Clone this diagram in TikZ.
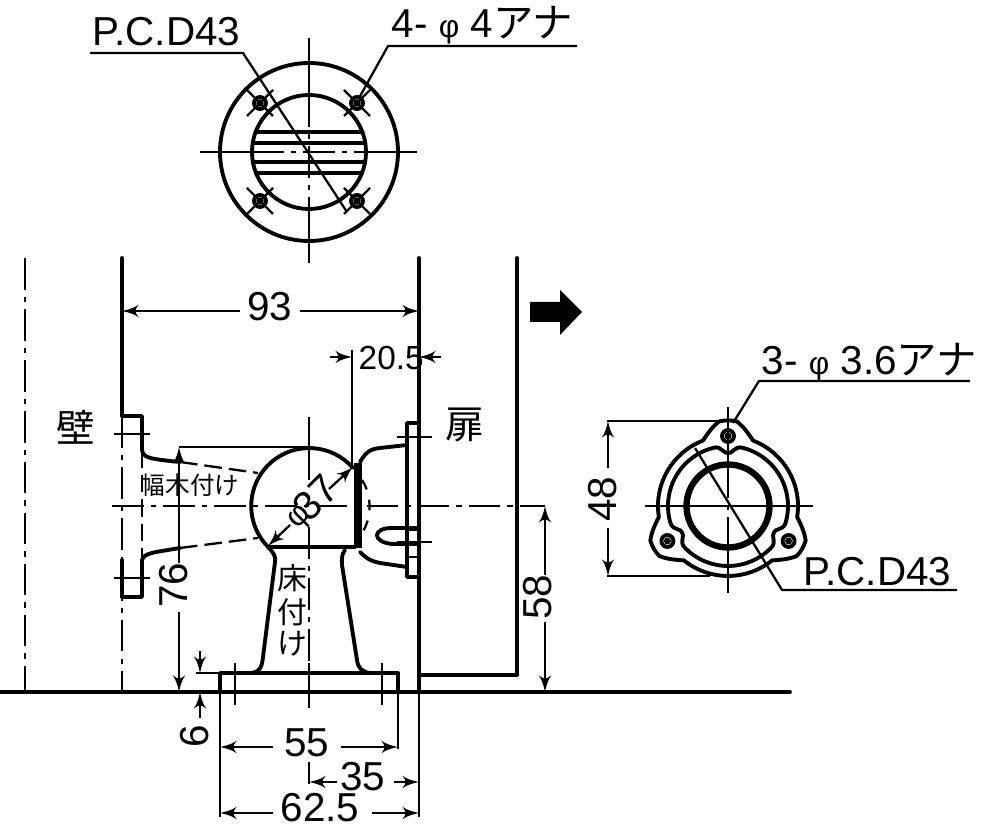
\documentclass[tikz,border=0pt]{standalone}
\usepackage{fontspec}
\setmainfont{Liberation Sans}
\newfontfamily\jpfont{Noto Sans CJK JP}
\usetikzlibrary{arrows}
\newcommand{\dia}{{\fontsize{9}{9}\selectfont φ}}
\tikzset{>=latex',
         part/.style = {line width=1.1pt, line cap=round, line join=round},
         dimline/.style = {line width=0.65pt},
         cenline/.style = {line width=0.65pt, dash pattern=on 9pt off 2pt on 1.5pt off 2pt},
         hidline/.style = {line width=0.65pt, dash pattern=on 5pt off 2pt},
         lbl/.style = {inner sep=0pt, font=\fontsize{11.5}{12}\selectfont},
         kanji/.style = {inner sep=0pt, font=\jpfont\fontsize{7}{8}\selectfont}}

\begin{document}
\begin{tikzpicture}[x=0.1mm, y=-0.1mm]
    \useasboundingbox (0, 0) rectangle (1000, 834);

    % top view
    \begin{scope}[shift={(309, 152)}]
      \draw [part] (0, 0) circle (89);
      \draw [part] (0, 0) circle (57);
      \foreach \y in {-20, -9, 10, 21} {
        \draw [part] ({-sqrt(57*57 - \y*\y)}, \y) -- ({sqrt(57*57 - \y*\y)}, \y);
      }
      \draw [dimline] (-109, 0) -- (-57, 0);
      \draw [dimline] (57, 0) -- (108, 0);
      \draw [cenline] (-57, 0) -- (57, 0);
      \draw [dimline] (0, -114) -- (0, -57);
      \draw [dimline] (0, 57) -- (0, 111);
      \draw [cenline] (0, -57) -- (0, 57);
      \foreach \x in {-49, 48} {
        \foreach \y in {-49, 49} {
          \draw [dimline] (\x - 13, \y - 13) -- (\x + 13, \y + 13);
          \draw [dimline] (\x - 13, \y + 13) -- (\x + 13, \y - 13);
          \draw [part] (\x, \y) circle (6);
          \draw [dimline] (\x, \y) circle (2.5);
        }
      }
    \end{scope}
    \node [lbl, anchor=base west] (pcdtop) at (92, 46) {P.C.D43};
    \node [lbl, anchor=base west] (holetop) at (391, 38) {4- \dia{} 4{\jpfont アナ}};
    \draw [dimline] (90, 53) -- (243, 53) -- (347, 212);
    \draw [dimline] (577, 46) -- (388, 46) -- (359, 98);

    % wall and door
    \draw [cenline] (25, 258) -- (25, 692);
    \draw [part] (122, 258) -- (122, 416);
    \draw [cenline] (122, 416) -- (122, 692);
    \draw [part] (419, 258) -- (419, 692);
    \draw [part] (517, 258) -- (517, 675) -- (419, 675);
    \draw [part] (0, 692) -- (790, 692);

    % wall side flange
    \draw [part] (122, 416) -- (142, 416) -- (142, 450)
      .. controls (143, 458) and (150, 459) .. (180, 462);
    \draw [part] (122, 597) -- (142, 597) -- (142, 560)
      .. controls (145, 553) and (150, 553) .. (180, 548);
    \draw [part] (122, 597) -- (122, 560);
    \draw [hidline] (142, 450) -- (142, 560);
    \draw [hidline] (180, 462) -- (258, 473);
    \draw [hidline] (180, 548) -- (258, 538);
    \draw [dimline] (114, 434) -- (150, 434);
    \draw [dimline] (114, 578) -- (150, 578);

    % ball
    \draw [part] (353, 468) arc [start angle=-41, end angle=-225, radius=58];
    \draw [part] (268, 547) -- (355, 547);
    \fill (354, 463) rectangle (362, 548);
    \draw [dimline, dashed] (362, 480) .. controls (372, 495) and (372, 518) .. (362, 533);

    % floor stand
    \draw [part] (268, 547) .. controls (274, 553) and (276, 557) .. (275, 562)
      -- (263, 657) .. controls (262, 668) and (259, 672) .. (252, 673);
    \draw [part] (345, 550) .. controls (341, 555) and (342, 560) .. (342, 565)
      -- (357, 660) .. controls (358, 668) and (362, 672) .. (370, 673);
    \draw [part] (220, 692) -- (220, 673) -- (398, 673) -- (398, 692);
    \draw [dimline] (235, 663) -- (235, 705);
    \draw [dimline] (382, 663) -- (382, 705);

    % door side bracket
    \draw [part] (360, 462) .. controls (366, 452) and (370, 449) .. (380, 448) -- (407, 445);
    \draw [part] (360, 552) .. controls (366, 558) and (370, 561) .. (380, 563) -- (407, 567);
    \draw [part] (418, 423) -- (407, 423) -- (407, 577) -- (418, 577);
    \draw [dimline] (407, 530) -- (418, 530);
    \draw [dimline] (407, 557) -- (418, 557);
    \draw [part] (418, 528) -- (392, 528) .. controls (372, 528) and (372, 542) .. (392, 544) -- (418, 544);
    \draw [dimline] (397, 437) -- (432, 437);
    \draw [dimline] (397, 542) -- (432, 542);

    % centre lines
    \draw [cenline] (112, 506) -- (545, 506);
    \draw [dimline] (309, 417) -- (309, 480);
    \draw [cenline] (309, 527) -- (309, 663);
    \draw [dimline] (309, 663) -- (309, 708);

    % dimensions
    \node [lbl] (dimb) at (270, 307) {93};
    \draw [dimline] (240, 311) edge [->] (122, 311) (300, 311) edge [->] (419, 311);

    \node [lbl, anchor=base west, font=\fontsize{9.5}{10}\selectfont] (dimc) at (358, 370) {20.5};
    \draw [dimline] (352, 350) -- (352, 468);
    \draw [dimline] (330, 357) edge [->] (352, 357) (441, 357) edge [->] (419, 357);

    \node [lbl, rotate=90] (dima) at (174, 585) {76};
    \draw [dimline] (179, 447) -- (309, 447);
    \draw [dimline] (179, 563) edge [->] (179, 447) (179, 612) edge [->] (179, 692);

    \node [lbl, rotate=90] (dimh) at (195, 736) {6};
    \draw [dimline] (196, 673) -- (220, 673);
    \draw [dimline] (200, 651) edge [->] (200, 673) (200, 718) edge [->] (200, 692);

    \node [lbl, rotate=90] (dimd) at (538, 597) {58};
    \draw [dimline] (545, 575) edge [->] (545, 506) (545, 622) edge [->] (545, 692);

    \node [lbl] (dimw) at (307, 743) {55};
    \draw [dimline] (220, 692) -- (220, 817);
    \draw [dimline] (398, 692) -- (398, 749);
    \draw [dimline] (419, 692) -- (419, 817);
    \draw [dimline] (273, 747) edge [->] (220, 747) (341, 747) edge [->] (398, 747);

    \node [lbl] (dimf) at (363, 777) {35};
    \draw [dimline] (309, 762) -- (309, 784);
    \draw [dimline] (337, 782) edge [->] (309, 782) (394, 782) edge [->] (419, 782);

    \node [lbl] (dimt) at (320, 808) {62.5};
    \draw [dimline] (273, 813) edge [->] (220, 813) (372, 813) edge [->] (419, 813);

    \node [lbl, rotate=45, font=\fontsize{9}{10}\selectfont] (dimbp) at (301, 519) {\dia};
    \node [lbl, rotate=45] (dimbn) at (316, 498) {37};
    \draw [dimline] (290, 525) edge [->] (268, 546) (329, 489) edge [->] (353, 467);

    % labels
    \node [kanji, font=\jpfont\fontsize{11}{12}\selectfont] (wall) at (76, 427) {壁};
    \node [kanji, font=\jpfont\fontsize{11}{12}\selectfont] (door) at (465, 425) {扉};
    \node [kanji] (base) at (190, 485) {幅木付け};
    \node [kanji, font=\jpfont\fontsize{8.5}{10}\selectfont] (floora) at (292, 578) {床};
    \node [kanji, font=\jpfont\fontsize{8.5}{10}\selectfont] (floorb) at (292, 612) {付};
    \node [kanji, font=\jpfont\fontsize{8.5}{10}\selectfont] (floorc) at (292, 644) {け};

    % block arrow
    \fill (530, 302) -- (560, 302) -- (560, 290) -- (582, 312) -- (560, 335) -- (560, 322) -- (530, 322) -- cycle;

    % back view
    \begin{scope}[shift={(728, 506)}]
      \foreach \a in {-90, 30, 150} {
        \draw [part] (\a + 21:70) arc [start angle=\a + 21, end angle=\a + 99, radius=70];
        \draw [part] (\a - 21:70) .. controls (\a - 15:76) and (\a - 11:81) .. (\a - 6:85)
          .. controls (\a - 2:86) and (\a + 2:86) .. (\a + 6:85)
          .. controls (\a + 11:81) and (\a + 15:76) .. (\a + 21:70);
        \draw [part] (\a + 12:60) arc [start angle=\a + 12, end angle=\a + 108, radius=60];
        \draw [part] (\a - 12:60) .. controls (\a - 7:60) and (\a - 4:52) .. (\a:53)
          .. controls (\a + 4:52) and (\a + 7:60) .. (\a + 12:60);
        \draw [part] (\a:70) circle (6);
        \fill (\a:70) circle (3.5);
      }
      \draw [line width=1.8pt] (0, 0) circle (41.5);
      \draw [dimline] (-83, 0) -- (85, 0);
      \draw [dimline] (0, -99) -- (0, -40);
      \draw [dimline] (0, 40) -- (0, 87);
      \draw [cenline] (-40, 0) -- (40, 0);
      \draw [cenline] (0, -40) -- (0, 40);
    \end{scope}
    \node [lbl, anchor=base west] (holeback) at (761, 375) {3- \dia{} 3.6{\jpfont アナ}};
    \node [lbl, anchor=base west] (pcdback) at (803, 586) {P.C.D43};
    \draw [dimline] (970, 381) -- (759, 381) -- (733, 423);
    \draw [dimline] (957, 590) -- (782, 590) -- (695, 448);
    \node [lbl, rotate=90] (dimo) at (603, 499) {48};
    \draw [dimline] (607, 421) -- (728, 421);
    \draw [dimline] (607, 576) -- (710, 576);
    \draw [dimline] (608, 468) edge [->] (608, 421) (608, 528) edge [->] (608, 576);
\end{tikzpicture}
\end{document}
